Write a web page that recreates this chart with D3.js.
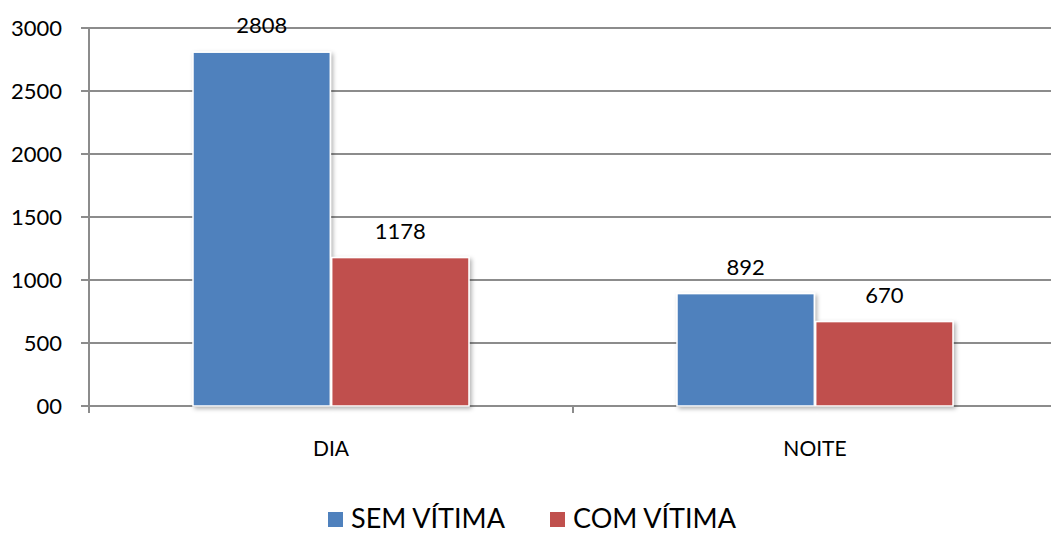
<!DOCTYPE html>
<html>
<head>
<meta charset="utf-8">
<script src="https://cdn.jsdelivr.net/npm/d3@7"></script>
<style>
  body { margin: 0; background: #fff; }
  text { font-family: Lato, "Open Sans", sans-serif; fill: #000; }
</style>
</head>
<body>
<svg width="1051" height="533"></svg>
<script>
// data
var categories = ["DIA", "NOITE"];
var seriesNames = ["SEM VÍTIMA", "COM VÍTIMA"];
var semVitima = [2808, 892];
var comVitima = [1178, 670];
var yTicks = [0, 500, 1000, 1500, 2000, 2500, 3000];
var colors = ["#4F81BD", "#C0504D"];

var svg = d3.select("svg");
var plotLeft = 89, plotTop = 28, plotBottom = 406, plotRight = 1057;

var x = d3.scaleBand().domain(categories).range([plotLeft, plotRight]);
var xs = d3.scaleBand().domain(seriesNames).range([0, x.bandwidth()]).paddingOuter(0.75).paddingInner(0.01);
var y = d3.scaleLinear().domain([0, 3000]).range([plotBottom, plotTop]);

var defs = svg.append("defs");
var f = defs.append("filter").attr("id", "shadow").attr("x", "-10%").attr("y", "-10%").attr("width", "130%").attr("height", "130%");
f.append("feDropShadow").attr("dx", 2).attr("dy", 2).attr("stdDeviation", 2).attr("flood-color", "#000").attr("flood-opacity", 0.3);

// gridlines
svg.append("g").selectAll("line")
  .data(yTicks)
  .enter().append("line")
  .attr("x1", plotLeft - 8).attr("x2", 1051)
  .attr("y1", function(d) { return y(d); })
  .attr("y2", function(d) { return y(d); })
  .attr("stroke", "#8c8c8c").attr("stroke-width", 2);

// y axis
svg.append("line").attr("x1", plotLeft).attr("x2", plotLeft).attr("y1", plotTop).attr("y2", plotBottom + 6)
  .attr("stroke", "#8c8c8c").attr("stroke-width", 2);

svg.append("g").selectAll("text")
  .data(yTicks)
  .enter().append("text")
  .attr("x", 62)
  .attr("y", function(d) { return y(d) + 8; })
  .attr("text-anchor", "end")
  .attr("font-size", "22px")
  .text(function(d) { return d === 0 ? "00" : d; });

// x axis ticks
svg.append("g").selectAll("line")
  .data([plotLeft, plotLeft + x.step(), plotLeft + 2 * x.step()])
  .enter().append("line")
  .attr("x1", function(d) { return d; }).attr("x2", function(d) { return d; })
  .attr("y1", plotBottom).attr("y2", plotBottom + 7)
  .attr("stroke", "#8c8c8c").attr("stroke-width", 2);

svg.append("g").selectAll("text")
  .data(categories)
  .enter().append("text")
  .attr("x", function(d) { return x(d) + x.bandwidth() / 2; })
  .attr("y", 456)
  .attr("text-anchor", "middle")
  .attr("font-size", "21px")
  .text(function(d) { return d; });

// bars
var rows = [];
categories.forEach(function(c, i) {
  rows.push({ cat: c, s: seriesNames[0], v: semVitima[i], color: colors[0] });
  rows.push({ cat: c, s: seriesNames[1], v: comVitima[i], color: colors[1] });
});

svg.append("g").selectAll("rect")
  .data(rows)
  .enter().append("rect")
  .attr("x", function(d) { return x(d.cat) + xs(d.s); })
  .attr("y", function(d) { return y(d.v); })
  .attr("width", xs.bandwidth())
  .attr("height", function(d) { return plotBottom - y(d.v); })
  .attr("fill", function(d) { return d.color; })
  .attr("stroke", "#fff").attr("stroke-width", 1.5)
  .attr("filter", "url(#shadow)");

svg.append("g").selectAll("text")
  .data(rows)
  .enter().append("text")
  .attr("x", function(d) { return x(d.cat) + xs(d.s) + xs.bandwidth() / 2; })
  .attr("y", function(d) { return y(d.v) - 19; })
  .attr("text-anchor", "middle")
  .attr("font-size", "22px")
  .text(function(d) { return d.v; });

// legend
var legendX = [328, 550];
var lg = svg.append("g").selectAll("g")
  .data(seriesNames)
  .enter().append("g")
  .attr("transform", function(d, i) { return "translate(" + legendX[i] + ",512)"; });
lg.append("rect").attr("width", 15).attr("height", 15)
  .attr("fill", function(d, i) { return colors[i]; });
lg.append("text").attr("x", 23).attr("y", 16).attr("font-size", "27px")
  .text(function(d) { return d; });
</script>
</body>
</html>
